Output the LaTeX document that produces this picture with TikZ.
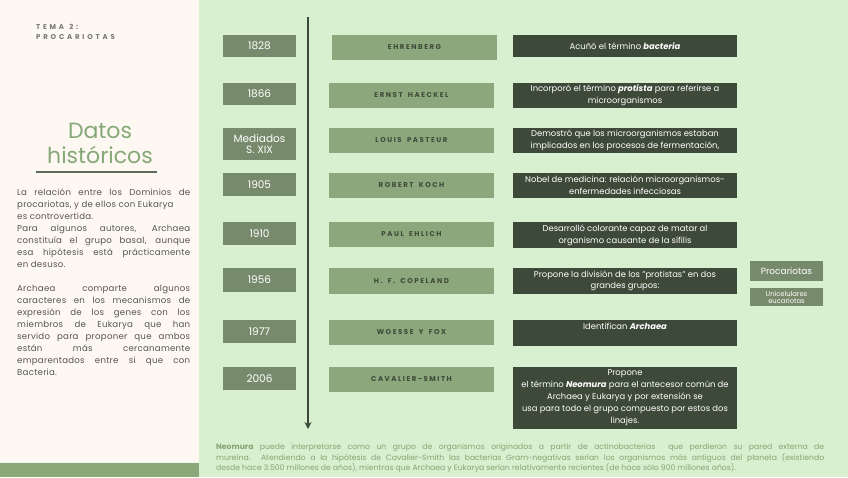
\documentclass[tikz,border=0pt]{standalone}
\usepackage{fontspec}
\setmainfont{Poppins}
\usetikzlibrary{arrows.meta}
\definecolor{cream}{HTML}{FDF8F1}
\definecolor{panel}{HTML}{D8F0CF}
\definecolor{barc}{HTML}{8BA878}
\definecolor{yearc}{HTML}{788A6C}
\definecolor{namec}{HTML}{8CA77C}
\definecolor{descc}{HTML}{3E4A39}
\definecolor{titlec}{HTML}{86A878}
\definecolor{linec}{HTML}{5E6A5A}
\definecolor{parac}{HTML}{555555}
\definecolor{temac}{HTML}{777777}
\definecolor{notec}{HTML}{86A474}
\newcommand\wsp{\hspace{0.75em}}
\tikzset{
  yearbox/.style={fill=yearc, text=white, inner sep=0pt, minimum width=73pt, align=center,
    font=\fontsize{10.5}{11}\selectfont},
  namebox/.style={fill=namec, text=descc, inner sep=0pt, minimum width=165pt, minimum height=25pt,
    font=\fontsize{7}{8}\selectfont\bfseries\addfontfeature{LetterSpace=22}},
  descbox/.style={fill=descc, text=white, inner sep=0pt, minimum width=224pt, align=center,
    font=\fontsize{8.4}{12}\selectfont},
  sidebox/.style={fill=yearc, text=white, inner sep=0pt, minimum width=73pt, align=center},
}
\begin{document}
\begin{tikzpicture}[x=1pt,y=-1pt]
\useasboundingbox (0,0) rectangle (848,477);
\fill[cream] (0,0) rectangle (199,477);
\fill[panel] (199,0) rectangle (848,477);
\fill[barc] (0,463) rectangle (199,477);
\draw[white!60!panel, line width=0.8pt] (0,462.5) -- (199,462.5);

% left panel
\node[anchor=west, text=temac, inner sep=0pt, align=left,
  font=\fontsize{7}{10}\selectfont\bfseries\addfontfeature{LetterSpace=40}] (tema) at (36,32) {TEMA\wsp 2:\\PROCARIOTAS};
\node[text=titlec, inner sep=0pt, align=center, font=\fontsize{22}{25}\selectfont] (titulo) at (100,143) {Datos\\históricos};
\coordinate (ul0) at (36,172);
\coordinate (ul1) at (157,172);
\draw[linec, line width=1.6pt] (ul0) -- (ul1);
\node[anchor=north west, text=parac, inner sep=0pt, text width=173pt, align=justify,
  font=\fontsize{8.6}{12}\selectfont\addfontfeature{LetterSpace=3}] (para) at (17,188.5) {%
La relación entre los Dominios de\linebreak
procariotas, y de ellos con Eukarya\\
es controvertida.\\
Para algunos autores, Archaea\linebreak
constituía el grupo basal, aunque\linebreak
esa hipótesis está prácticamente\linebreak
en desuso.\\[12pt]
Archaea comparte algunos\linebreak
caracteres en los mecanismos de\linebreak
expresión de los genes con los\linebreak
miembros de Eukarya que han\linebreak
servido para proponer que ambos\linebreak
están más cercanamente\linebreak
emparentados entre si que con\linebreak
Bacteria.};

% timeline
\coordinate (tl0) at (308,17);
\coordinate (tl1) at (308,429);
\draw[descc, line width=1.8pt, -{Stealth[length=7pt,width=7pt]}] (tl0) -- (tl1);

% years
\node[yearbox, minimum height=22pt] (y1) at (259.5,46) {1828};
\node[yearbox, minimum height=22pt] (y2) at (259.5,94) {1866};
\node[yearbox, minimum height=32pt, font=\fontsize{10.5}{11.5}\selectfont] (y3) at (259.5,144) {Mediados\\S. XIX};
\node[yearbox, minimum height=23pt] (y4) at (259.5,184.5) {1905};
\node[yearbox, minimum height=23pt] (y5) at (259.5,233.5) {1910};
\node[yearbox, minimum height=24pt] (y6) at (259.5,280) {1956};
\node[yearbox, minimum height=23pt] (y7) at (259.5,331.5) {1977};
\node[yearbox, minimum height=23pt] (y8) at (259.5,378.5) {2006};

% names
\node[namebox] (n1) at (414.5,47.5) {EHRENBERG};
\node[namebox] (n2) at (411.5,95.5) {ERNST\wsp HAECKEL};
\node[namebox] (n3) at (411.5,140.5) {LOUIS\wsp PASTEUR};
\node[namebox] (n4) at (411.5,185.5) {ROBERT\wsp KOCH};
\node[namebox] (n5) at (411.5,234.5) {PAUL\wsp EHLICH};
\node[namebox, minimum height=26pt] (n6) at (411.5,281) {H.\wsp F.\wsp COPELAND};
\node[namebox] (n7) at (411.5,332.5) {WOESSE\wsp Y\wsp FOX};
\node[namebox] (n8) at (411.5,379.5) {CAVALIER-SMITH};

% descriptions
\node[descbox, minimum height=22pt] (d1) at (625,46) {Acuñó el término \textbf{\textit{bacteria}}};
\node[descbox, minimum height=25pt] (d2) at (625,95.5) {Incorporó el término \textbf{\textit{protista}} para referirse a\\microorganismos};
\node[descbox, minimum height=25pt] (d3) at (625,140.5) {Demostró que los microorganismos estaban\\implicados en los procesos de fermentación,};
\node[descbox, minimum height=25pt] (d4) at (625,185.5) {Nobel de medicina: relación microorganismos-\\enfermedades infecciosas};
\node[descbox, minimum height=26pt] (d5) at (625,235) {Desarrolló colorante capaz de matar al\\organismo causante de la sífilis};
\node[descbox, minimum height=26pt, font=\fontsize{8.4}{10.5}\selectfont] (d6) at (625,281) {Propone la división de los "protistas" en dos\\grandes grupos:};
\node[descbox, minimum height=26pt] (d7) at (625,333) {};
\node[anchor=north, text=white, inner sep=0pt, font=\fontsize{8.4}{12}\selectfont] (d7t) at ([yshift=-3pt]d7.north) {Identifican \textbf{\textit{Archaea}}};
\node[descbox, minimum height=62pt] (d8) at (625,398) {Propone\\el término \textbf{\textit{Neomura}} para el antecesor común de\\Archaea y Eukarya y por extensión se\\usa para todo el grupo compuesto por estos dos\\linajes.};

% side boxes
\node[sidebox, minimum height=20pt, font=\fontsize{9}{10}\selectfont] (s1) at (786.5,271) {Procariotas};
\node[sidebox, minimum height=18pt, font=\fontsize{6.8}{7}\selectfont] (s2) at (786.5,297) {Unicelulares\\eucariotas};

% bottom note
\node[anchor=north west, text=notec, inner sep=0pt, text width=608pt, align=justify,
  font=\fontsize{7.7}{10.5}\selectfont] (note) at (216,443.5) {%
\textbf{Neomura} puede interpretarse como un grupo de organismos originados a partir de actinobacterias\ \ que perdieron su pared externa de\linebreak
mureína. Atendiendo a la hipótesis de Cavalier-Smith las bacterias Gram-negativas serían los organismos más antiguos del planeta (existiendo\linebreak
desde hace 3.500 millones de años), mientras que Archaea y Eukarya serían relativamente recientes (de hace sólo 900 millones años).};
\end{tikzpicture}
\end{document}
